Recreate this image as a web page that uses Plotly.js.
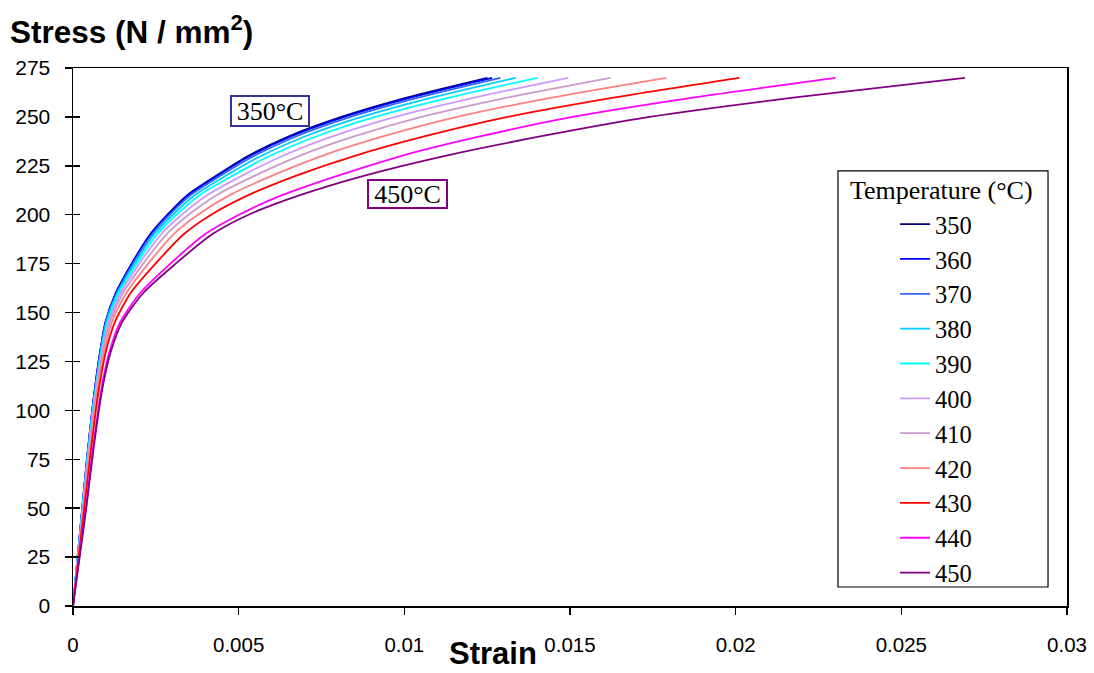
<!DOCTYPE html>
<html>
<head>
<meta charset="utf-8">
<script src="https://cdn.plot.ly/plotly-3.0.1.min.js"></script>
<style>html,body{margin:0;padding:0;background:#fff;}#chart{width:1094px;height:673px;}</style>
</head>
<body>
<div id="chart"></div>
<script>
// Stress levels (N/mm^2) shared by all curves
const stress = [0, 25, 50, 75, 100, 115, 130, 145, 160, 175, 190, 200, 210, 220, 230, 240, 250, 260, 270];

// Strain read at each stress level, one array per temperature (°C)
const strain350 = [0, 0.00014, 0.00028, 0.00042, 0.00058, 0.00069, 0.00082, 0.00098, 0.00129, 0.00177, 0.00233, 0.00285, 0.00345, 0.00433, 0.00528, 0.00650, 0.00810, 0.01010, 0.01251];
const strain360 = [0, 0.00014, 0.00028, 0.00042, 0.00058, 0.00069, 0.00082, 0.00098, 0.00130, 0.00178, 0.00235, 0.00287, 0.00348, 0.00437, 0.00534, 0.00658, 0.00819, 0.01022, 0.01265];
const strain370 = [0, 0.00014, 0.00028, 0.00042, 0.00059, 0.00070, 0.00083, 0.00099, 0.00132, 0.00181, 0.00239, 0.00292, 0.00355, 0.00446, 0.00546, 0.00673, 0.00838, 0.01045, 0.01290];
const strain380 = [0, 0.00014, 0.00029, 0.00043, 0.00059, 0.00071, 0.00084, 0.00101, 0.00134, 0.00186, 0.00245, 0.00301, 0.00367, 0.00462, 0.00567, 0.00699, 0.00871, 0.01086, 0.01336];
const strain390 = [0, 0.00015, 0.00029, 0.00044, 0.00060, 0.00072, 0.00086, 0.00104, 0.00138, 0.00192, 0.00254, 0.00312, 0.00382, 0.00482, 0.00593, 0.00734, 0.00912, 0.01139, 0.01402];
const strain400 = [0, 0.00015, 0.00030, 0.00045, 0.00062, 0.00073, 0.00088, 0.00107, 0.00144, 0.00200, 0.00266, 0.00328, 0.00405, 0.00511, 0.00632, 0.00783, 0.00973, 0.01215, 0.01495];
const strain410 = [0, 0.00016, 0.00031, 0.00046, 0.00063, 0.00075, 0.00090, 0.00111, 0.00151, 0.00212, 0.00282, 0.00349, 0.00433, 0.00549, 0.00682, 0.00848, 0.01052, 0.01314, 0.01622];
const strain420 = [0, 0.00016, 0.00033, 0.00048, 0.00066, 0.00078, 0.00094, 0.00117, 0.00161, 0.00227, 0.00303, 0.00377, 0.00473, 0.00601, 0.00750, 0.00935, 0.01159, 0.01449, 0.01791];
const strain430 = [0, 0.00017, 0.00034, 0.00051, 0.00069, 0.00082, 0.00099, 0.00126, 0.00174, 0.00249, 0.00334, 0.00417, 0.00529, 0.00674, 0.00848, 0.01060, 0.01312, 0.01636, 0.02011];
const strain440 = [0, 0.00019, 0.00039, 0.00056, 0.00076, 0.00090, 0.00110, 0.00142, 0.00203, 0.00294, 0.00398, 0.00501, 0.00631, 0.00800, 0.00990, 0.01228, 0.01508, 0.01876, 0.02301];
const strain450 = [0, 0.00020, 0.00040, 0.00058, 0.00078, 0.00093, 0.00114, 0.00148, 0.00212, 0.00310, 0.00420, 0.00530, 0.00685, 0.00880, 0.01120, 0.01410, 0.01740, 0.02180, 0.02692];

const temperatures = ['350', '360', '370', '380', '390', '400', '410', '420', '430', '440', '450'];
const strainSeries = [strain350, strain360, strain370, strain380, strain390, strain400, strain410, strain420, strain430, strain440, strain450];
const colors = ['#000080', '#0000FF', '#3366FF', '#00CCFF', '#00FFFF', '#CC99FF', '#CC99CC', '#FF8080', '#FF0000', '#FF00FF', '#800080'];

const xTickVals = [0, 0.005, 0.01, 0.015, 0.02, 0.025, 0.03];
const xTickText = ['0', '0.005', '0.01', '0.015', '0.02', '0.025', '0.03'];

const serif = 'Liberation Serif, Times New Roman, serif';
const sans = 'Liberation Sans, Arial, sans-serif';

const traces = temperatures.map((t, i) => ({
  type: 'scatter',
  mode: 'lines',
  name: t,
  legendgroup: 'g' + t,
  x: strainSeries[i],
  y: stress,
  line: {color: colors[i], width: 1.8, shape: 'spline', smoothing: 0.7},
  hoverinfo: 'x+y+name'
}));

// invisible trace to carry the crossing (inside) y ticks
traces.push({type: 'scatter', x: [0], y: [0], yaxis: 'y2', mode: 'markers', marker: {opacity: 0}, showlegend: false, hoverinfo: 'skip'});

const layout = {
  width: 1094,
  height: 673,
  paper_bgcolor: '#fff',
  plot_bgcolor: '#fff',
  margin: {l: 73, r: 27, t: 68, b: 67},
  showlegend: true,
  legend: {
    x: 0.827, xanchor: 'left', y: 0.7515, yanchor: 'top',
    bgcolor: 'rgba(0,0,0,0)', borderwidth: 0,
    font: {family: serif, size: 24.5, color: '#000'},
    traceorder: 'grouped', tracegroupgap: 0
  },
  xaxis: {
    range: [0, 0.03], tickvals: xTickVals, ticktext: xTickText,
    showgrid: false, zeroline: false,
    showline: true, linecolor: '#000', linewidth: 1.5, mirror: true,
    ticks: 'outside', ticklen: 7, tickcolor: '#000', tickwidth: 1.5,
    ticklabelstandoff: 13,
    tickfont: {family: sans, size: 20.5, color: '#000'}
  },
  yaxis: {
    range: [0, 275], dtick: 25, tick0: 0,
    showgrid: false, zeroline: false,
    showline: true, linecolor: '#000', linewidth: 1.5, mirror: true,
    ticks: 'outside', ticklen: 7, tickcolor: '#000', tickwidth: 1.5,
    ticklabelstandoff: 10,
    tickfont: {family: sans, size: 21, color: '#000'}
  },
  yaxis2: {
    overlaying: 'y', side: 'left', range: [0, 275], dtick: 25, tick0: 0,
    showgrid: false, zeroline: false, showline: false,
    ticks: 'inside', ticklen: 7, tickcolor: '#000', tickwidth: 1.5,
    showticklabels: false, fixedrange: true
  },
  shapes: [{
    type: 'rect', xref: 'paper', yref: 'paper',
    x0: 0.7696, x1: 0.9809, y0: 0.0353, y1: 0.8086,
    line: {color: '#000', width: 1.2}, fillcolor: 'rgba(0,0,0,0)'
  }],
  annotations: [
    {xref: 'paper', yref: 'paper', x: -0.0654, y: 1.0706, xanchor: 'left', yanchor: 'middle',
     text: '<b>Stress (N / mm<sup>2</sup>)</b>', showarrow: false,
     font: {family: sans, size: 31.5, color: '#000'}},
    {xref: 'paper', yref: 'paper', x: 0.4225, y: -0.0892, xanchor: 'center', yanchor: 'middle',
     text: '<b>Strain</b>', showarrow: false, borderpad: 0,
     font: {family: sans, size: 31, color: '#000'}},
    {xref: 'paper', yref: 'paper', x: 0.8742, y: 0.773, xanchor: 'center', yanchor: 'middle',
     text: 'Temperature (°C)', showarrow: false,
     font: {family: serif, size: 26, color: '#000'}},
    {xref: 'paper', yref: 'paper', x: 0.198, y: 0.920, xanchor: 'center', yanchor: 'middle',
     text: '350°C', showarrow: false, width: 74, height: 26, borderpad: 1,
     bordercolor: '#333399', borderwidth: 2,
     font: {family: serif, size: 26, color: '#000'}},
    {xref: 'paper', yref: 'paper', x: 0.337, y: 0.766, xanchor: 'center', yanchor: 'middle',
     text: '450°C', showarrow: false, width: 75, height: 24, borderpad: 1,
     bordercolor: '#800080', borderwidth: 2,
     font: {family: serif, size: 26, color: '#000'}}
  ]
};

Plotly.newPlot('chart', traces, layout, {displayModeBar: false, staticPlot: true});
</script>
</body>
</html>
